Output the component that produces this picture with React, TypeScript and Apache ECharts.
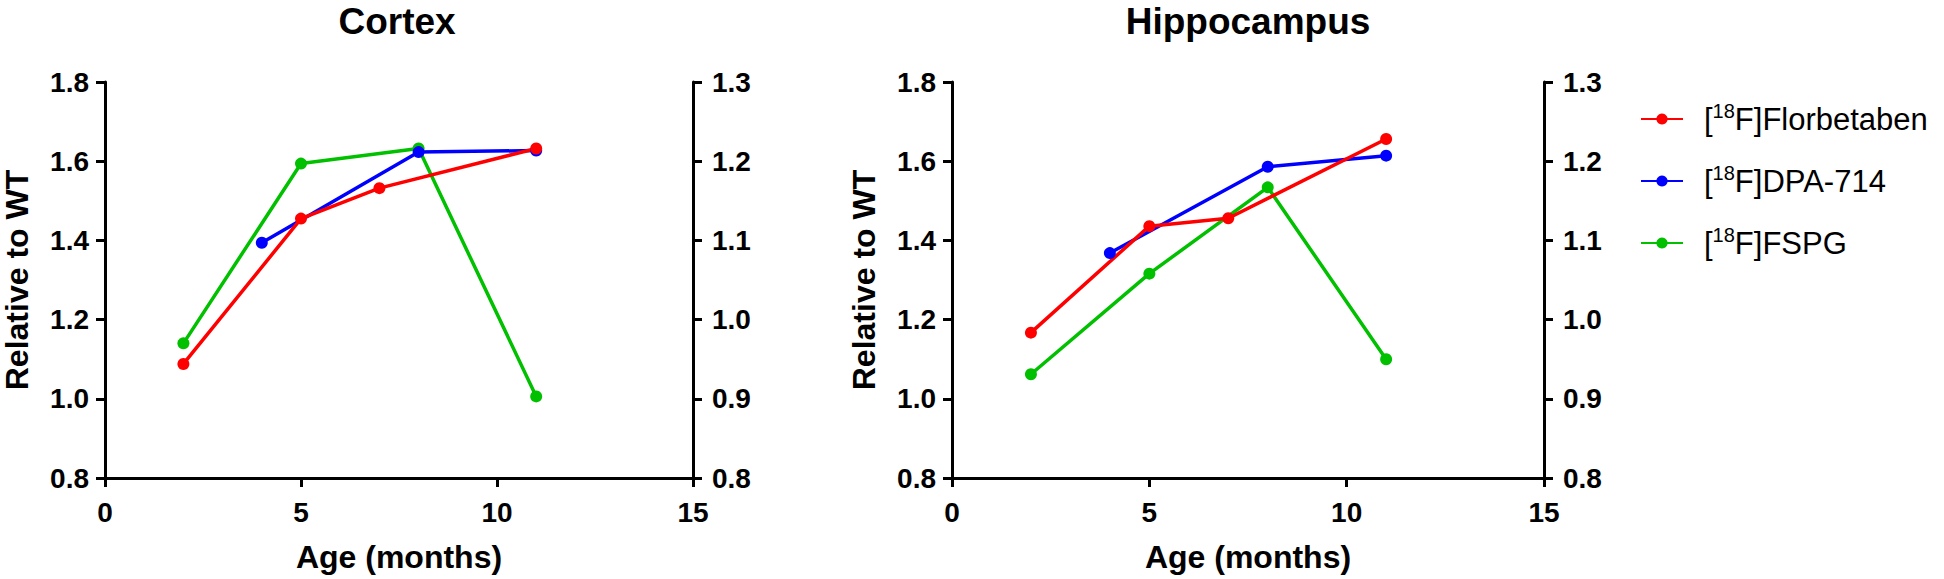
import React, { useEffect, useRef } from "react";
import * as echarts from "echarts";

const seriesNames = ["[18F]Florbetaben", "[18F]DPA-714", "[18F]FSPG"];
const seriesColors = ["#ff0000", "#0000ff", "#00c000"];
const panelTitles = ["Cortex", "Hippocampus"];

// Cortex
const cortexFlorbetaben: [number, number][] = [[2, 1.088], [5, 1.455], [7, 1.532], [11, 1.632]];
const cortexDPA: [number, number][] = [[4, 1.394], [8, 1.623], [11, 1.627]];
const cortexFSPG: [number, number][] = [[2, 0.97], [5, 1.197], [8, 1.216], [11, 0.903]]; // right axis

// Hippocampus
const hippoFlorbetaben: [number, number][] = [[2, 1.167], [5, 1.436], [7, 1.456], [11, 1.656]];
const hippoDPA: [number, number][] = [[4, 1.368], [8, 1.586], [11, 1.614]];
const hippoFSPG: [number, number][] = [[2, 0.931], [5, 1.058], [8, 1.167], [11, 0.95]]; // right axis

const FONT = "Arial, 'Liberation Sans', Helvetica, sans-serif";

export default function App() {
  const ref = useRef<HTMLDivElement>(null);
  useEffect(() => {
    if (!ref.current) return;
    const chart = echarts.init(ref.current, null, { renderer: "svg" });
    const grids = [
      { left: 101, right: 1944 - 693, top: 82, bottom: 579 - 478 },
      { left: 952, right: 1944 - 1544, top: 82, bottom: 579 - 478 },
    ];
    const axisLine = { show: true, lineStyle: { color: "#000", width: 3 } };
    const axisTick = { show: true, inside: false, length: 9, lineStyle: { color: "#000", width: 3 } };
    const tickLabel = { color: "#000", fontSize: 28, fontWeight: "bold", fontFamily: FONT };
    const nameStyle = { color: "#000", fontSize: 32, fontWeight: "bold", fontFamily: FONT };
    const xAxes = grids.map((_, i) => ({
      type: "value",
      gridIndex: i,
      min: 0,
      max: 15,
      interval: 5,
      axisLine,
      axisTick,
      splitLine: { show: false },
      axisLabel: { ...tickLabel, margin: 20 },
      name: "Age (months)",
      nameLocation: "middle",
      nameGap: 63,
      nameTextStyle: nameStyle,
    }));
    const yAxes: any[] = [];
    grids.forEach((_, i) => {
      yAxes.push({
        type: "value",
        gridIndex: i,
        position: "left",
        min: 0.8,
        max: 1.8,
        interval: 0.2,
        axisLine,
        axisTick,
        splitLine: { show: false },
        axisLabel: { ...tickLabel, margin: 16, formatter: (v: number) => v.toFixed(1) },
        name: "Relative to WT",
        nameLocation: "middle",
        nameGap: 72,
        nameTextStyle: nameStyle,
      });
      yAxes.push({
        type: "value",
        gridIndex: i,
        position: "right",
        min: 0.8,
        max: 1.3,
        interval: 0.1,
        axisLine,
        axisTick,
        splitLine: { show: false },
        axisLabel: { ...tickLabel, margin: 19, formatter: (v: number) => v.toFixed(1) },
      });
    });
    const mk = (name: string, color: string, data: [number, number][], xi: number, yi: number) => ({
      type: "line",
      name,
      data,
      xAxisIndex: xi,
      yAxisIndex: yi,
      symbol: "circle",
      symbolSize: 12,
      lineStyle: { color, width: 3.5 },
      itemStyle: { color },
      z: 2,
    });
    const series = [
      mk(seriesNames[2], seriesColors[2], cortexFSPG, 0, 1),
      mk(seriesNames[1], seriesColors[1], cortexDPA, 0, 0),
      mk(seriesNames[0], seriesColors[0], cortexFlorbetaben, 0, 0),
      mk(seriesNames[2], seriesColors[2], hippoFSPG, 1, 3),
      mk(seriesNames[1], seriesColors[1], hippoDPA, 1, 2),
      mk(seriesNames[0], seriesColors[0], hippoFlorbetaben, 1, 2),
    ];
    chart.setOption({
      animation: false,
      backgroundColor: "#fff",
      title: panelTitles.map((t, i) => ({
        text: t,
        left: i === 0 ? 397 : 1248,
        top: 3,
        padding: 0,
        textAlign: "center",
        textStyle: { color: "#000", fontSize: 37, fontWeight: "bold", fontFamily: FONT },
      })),
      legend: {
        data: seriesNames,
        orient: "vertical",
        left: 1635,
        top: 96,
        itemWidth: 42,
        itemHeight: 14,
        itemGap: 26,
        selectedMode: false,
        formatter: (name: string) => name.replace("[18F]", "[{sup|18}F]"),
        textStyle: {
          color: "#000",
          fontSize: 31,
          lineHeight: 36,
          fontFamily: FONT,
          padding: [0, 0, 0, 16],
          rich: {
            sup: { fontSize: 20, lineHeight: 20, verticalAlign: "top", fontFamily: FONT, color: "#000" },
          },
        },
      },
      grid: grids,
      xAxis: xAxes,
      yAxis: yAxes,
      series,
    });
    return () => chart.dispose();
  }, []);
  return (
    <div
      ref={ref}
      style={{ position: "fixed", left: 0, top: 0, width: 1944, height: 579, background: "#fff" }}
    />
  );
}
